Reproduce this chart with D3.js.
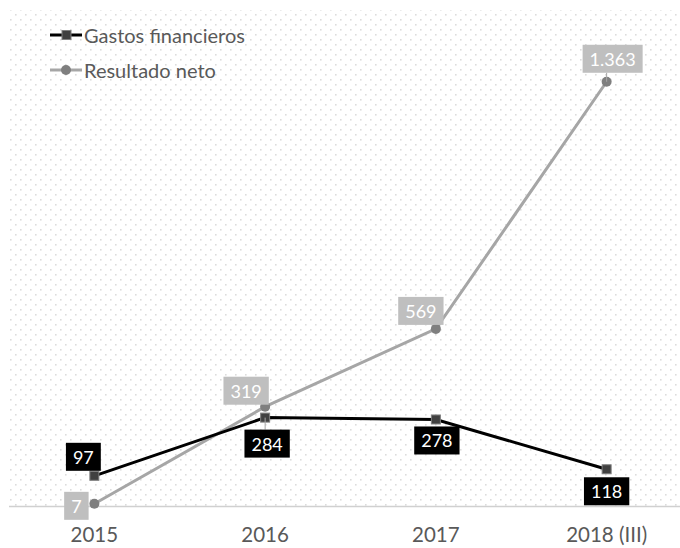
<!DOCTYPE html>
<html>
<head>
<meta charset="utf-8">
<script src="https://cdn.jsdelivr.net/npm/d3@7"></script>
<style>
  html, body { margin: 0; padding: 0; background: #fff; }
  svg { display: block; }
</style>
</head>
<body>
<svg id="chart" width="680" height="548"></svg>
<script>
// Chart data
const categories = ["2015", "2016", "2017", "2018 (III)"];
const gastosFinancieros = [97, 284, 278, 118];
const resultadoNeto = [7, 319, 569, 1363];
const gastosLabels = ["97", "284", "278", "118"];
const resultadoLabels = ["7", "319", "569", "1.363"];
const seriesNames = ["Gastos financieros", "Resultado neto"];

const W = 680, H = 548;
const plot = { left: 9, right: 692, top: 8, bottom: 506 };
const font = "Lato, 'Open Sans', sans-serif";

const svg = d3.select("#chart");

// dotted background texture
const defs = svg.append("defs");
const pat = defs.append("pattern")
  .attr("id", "dots").attr("patternUnits", "userSpaceOnUse")
  .attr("width", 10).attr("height", 10).attr("x", plot.left).attr("y", plot.top);
pat.append("rect").attr("x", 1).attr("y", 1).attr("width", 1.6).attr("height", 1.6).attr("fill", "#dcdcdc");
pat.append("rect").attr("x", 6).attr("y", 6).attr("width", 1.6).attr("height", 1.6).attr("fill", "#dcdcdc");

svg.append("rect")
  .attr("x", plot.left).attr("y", plot.top + 2)
  .attr("width", W - plot.left).attr("height", plot.bottom - plot.top - 2)
  .attr("fill", "url(#dots)");

const x = d3.scaleBand().domain(categories).range([plot.left, plot.right]);
const cx = c => x(c) + x.bandwidth() / 2;
const y = d3.scaleLinear().domain([0, 1600]).range([plot.bottom, plot.top]);

// category axis
const xAxis = d3.axisBottom(x).tickSize(0).tickPadding(21);
const gx = svg.append("g").attr("transform", `translate(0,${plot.bottom})`).call(xAxis);
gx.select(".domain").attr("stroke", "#d0d0d0").attr("stroke-width", 1.5)
  .attr("d", `M${plot.left},0.5H${W}`);
gx.selectAll("text").attr("fill", "#595959").attr("font-size", 20.5).attr("font-family", font);

const line = d3.line().x((d, i) => cx(categories[i])).y(d => y(d));

// Resultado neto (grey, circles)
svg.append("path").datum(resultadoNeto)
  .attr("d", line).attr("fill", "none").attr("stroke", "#a6a6a6").attr("stroke-width", 3);
svg.selectAll(".rn").data(resultadoNeto).enter().append("circle")
  .attr("cx", (d, i) => cx(categories[i])).attr("cy", d => y(d)).attr("r", 5)
  .attr("fill", "#7f7f7f");

// Gastos financieros (black, squares)
svg.append("path").datum(gastosFinancieros)
  .attr("d", line).attr("fill", "none").attr("stroke", "#000").attr("stroke-width", 3);
svg.selectAll(".gf").data(gastosFinancieros).enter().append("rect")
  .attr("x", (d, i) => cx(categories[i]) - 4.5).attr("y", d => y(d) - 4.5)
  .attr("width", 9).attr("height", 9)
  .attr("fill", "#404040").attr("stroke", "#7f7f7f").attr("stroke-width", 1);

// data label boxes; offsets relative to the data point
function label(xc, yc, text, bg, dx, dy, leader) {
  const g = svg.append("g");
  const t = g.append("text")
    .attr("x", xc + dx).attr("y", yc + dy)
    .attr("text-anchor", "middle").attr("dominant-baseline", "central")
    .attr("font-family", font).attr("font-size", 18).attr("fill", "#fff")
    .text(text);
  const bb = t.node().getBBox();
  const pw = 7, bh = 28;
  if (leader) {
    const edge = dy < 0 ? yc + dy + bh / 2 : yc + dy - bh / 2;
    g.insert("line", "text").attr("x1", xc).attr("y1", yc).attr("x2", xc)
      .attr("y2", edge).attr("stroke", "#a6a6a6").attr("stroke-width", 1);
  }
  g.insert("rect", "text")
    .attr("x", xc + dx - bb.width / 2 - pw).attr("y", yc + dy - bh / 2)
    .attr("width", bb.width + pw * 2).attr("height", bh)
    .attr("fill", bg);
}

const gOff = [[-11, -19], [2, 26], [1, 21], [0, 22]];
const rOff = [[-18, 2], [-19, -16], [-15, -18], [6, -23]];
gastosFinancieros.forEach((v, i) =>
  label(cx(categories[i]), y(v), gastosLabels[i], "#000", gOff[i][0], gOff[i][1], i === 1));
resultadoNeto.forEach((v, i) =>
  label(cx(categories[i]), y(v), resultadoLabels[i], "#bfbfbf", rOff[i][0], rOff[i][1], i === 3));

// legend
const legend = svg.append("g");
const lg = [
  { name: seriesNames[0], color: "#000", mark: "square", yy: 35 },
  { name: seriesNames[1], color: "#a6a6a6", mark: "circle", yy: 70 }
];
lg.forEach(d => {
  legend.append("line").attr("x1", 50).attr("x2", 82).attr("y1", d.yy).attr("y2", d.yy)
    .attr("stroke", d.color).attr("stroke-width", 3);
  if (d.mark === "square") {
    legend.append("rect").attr("x", 62).attr("y", d.yy - 4.5).attr("width", 9).attr("height", 9)
      .attr("fill", "#404040").attr("stroke", "#7f7f7f");
  } else {
    legend.append("circle").attr("cx", 66).attr("cy", d.yy).attr("r", 5).attr("fill", "#7f7f7f");
  }
  legend.append("text").attr("x", 84).attr("y", d.yy).attr("dominant-baseline", "central")
    .attr("font-family", font).attr("font-size", 20).attr("fill", "#595959").text(d.name);
});
</script>
</body>
</html>
